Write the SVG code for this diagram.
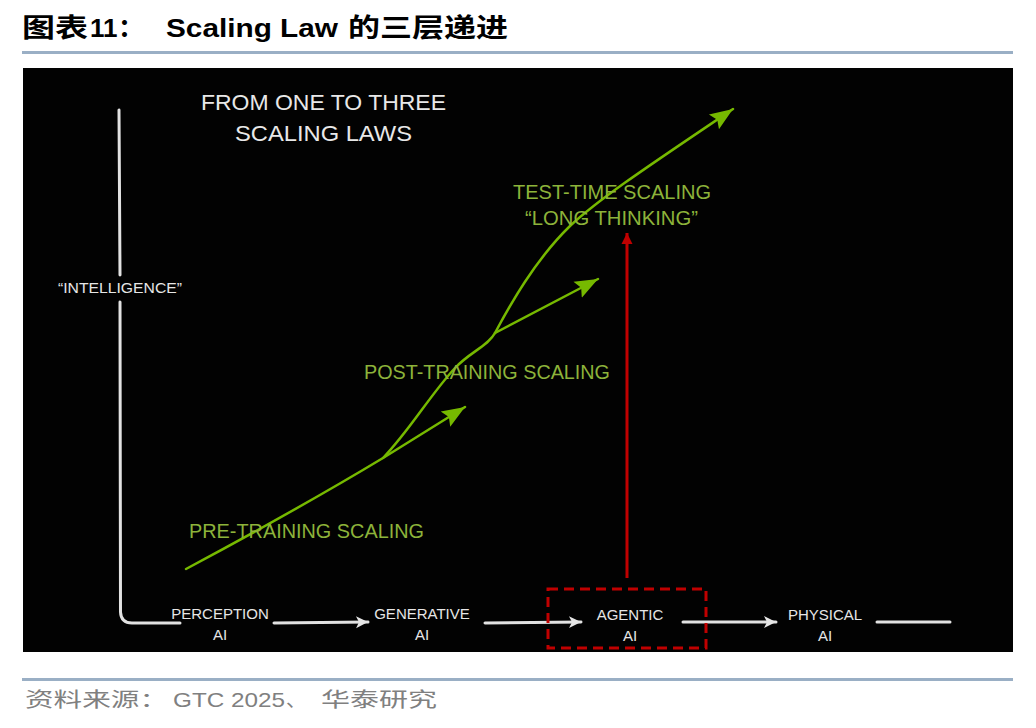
<svg xmlns="http://www.w3.org/2000/svg" width="1036" height="728" viewBox="0 0 1036 728">
<style>
.title-cn{font-family:"Noto Sans CJK SC","Noto Sans",sans-serif;font-weight:bold;font-size:26px;fill:#000}
.title-en{font-family:"Liberation Sans",Arial,sans-serif;font-weight:bold;font-size:26px;fill:#000}
.foot-cn{font-family:"Noto Sans CJK SC",sans-serif;font-size:20px;fill:#808080}
.foot-en{font-family:"Liberation Sans",Arial,sans-serif;font-size:21px;fill:#808080}
.wtxt{font-family:"Liberation Sans",Arial,sans-serif;font-size:15px;fill:#e6e6e6;text-anchor:middle}
.head{font-family:"Liberation Sans",Arial,sans-serif;font-size:22px;fill:#e8e8e8}
.gtxt{font-family:"Liberation Sans",Arial,sans-serif;font-size:21px;fill:#8db33a}
.wline{fill:none;stroke:#e2e2e2;stroke-width:3;stroke-linecap:round}
.gline{fill:none;stroke:#76b900;stroke-width:2.5;stroke-linecap:round}
.rule{stroke:#9aafc5;stroke-width:3}
</style>
<defs>
<marker id="wArrow" markerUnits="userSpaceOnUse" markerWidth="14" markerHeight="14" viewBox="0 0 14 14" refX="13" refY="7" orient="auto">
<path d="M1,1 L13,7 L1,13 L4,7 Z" fill="#e6e6e6"/>
</marker>
<marker id="gArrow" markerUnits="userSpaceOnUse" markerWidth="24" markerHeight="20" viewBox="0 0 24 20" refX="23" refY="10" orient="auto">
<path d="M0,1 L23,10 L0,19 L4,10 Z" fill="#76b900"/>
</marker>
<marker id="rArrow" markerUnits="userSpaceOnUse" markerWidth="12" markerHeight="12" viewBox="0 0 12 12" refX="11" refY="6" orient="auto">
<path d="M0,0.5 L11,6 L0,11.5 Z" fill="#c00000"/>
</marker>
</defs>
<rect width="1036" height="728" fill="#fff"/>
<g id="title">
<text class="title-cn" x="22" y="37" textLength="66" lengthAdjust="spacingAndGlyphs">图表</text>
<text class="title-en" x="90" y="37">11</text>
<text class="title-cn" x="118" y="37">：</text>
<text class="title-en" x="166" y="37" textLength="172" lengthAdjust="spacingAndGlyphs">Scaling Law</text>
<text class="title-cn" x="348" y="37" textLength="160" lengthAdjust="spacingAndGlyphs">的三层递进</text>
</g>
<line class="rule" x1="22" y1="52.5" x2="1013" y2="52.5"/>
<rect x="23" y="68" width="990" height="584" fill="#020202"/>
<g id="connectors">
<path class="wline" d="M119,110 L120,275"/>
<path class="wline" d="M120,302 L120.5,612 Q121,623 132,623 L180,623"/>
<path class="wline" d="M274,623 L368,622" marker-end="url(#wArrow)"/>
<path class="wline" d="M485,623 L581,622" marker-end="url(#wArrow)"/>
<path class="wline" d="M683,622 L776,622" marker-end="url(#wArrow)"/>
<path class="wline" d="M877,622 L950,622"/>
<path class="gline" d="M186,569 Q300,508 383,458 L465,407" marker-end="url(#gArrow)"/>
<path class="gline" d="M383,458 C410,430 430,395 455,368 C470,352 488,346 495,333"/>
<path class="gline" d="M495,333 L598,279" marker-end="url(#gArrow)"/>
<path class="gline" d="M495,333 C510,305 535,260 570,226 C600,198 650,165 733,109" marker-end="url(#gArrow)"/>
<path d="M627,578 L627,233" stroke="#c00000" stroke-width="3" fill="none" marker-end="url(#rArrow)"/>
</g>
<g id="heading">
<text class="head" x="201" y="110" textLength="245" lengthAdjust="spacingAndGlyphs">FROM ONE TO THREE</text>
<text class="head" x="235" y="141" textLength="177" lengthAdjust="spacingAndGlyphs">SCALING LAWS</text>
</g>
<g id="intelligence">
<text class="wtxt" x="120" y="293" textLength="124" lengthAdjust="spacingAndGlyphs">“INTELLIGENCE”</text>
</g>
<g id="pre-training">
<text class="gtxt" x="189" y="538" textLength="235" lengthAdjust="spacingAndGlyphs">PRE-TRAINING SCALING</text>
</g>
<g id="post-training">
<text class="gtxt" x="364" y="379" textLength="246" lengthAdjust="spacingAndGlyphs">POST-TRAINING SCALING</text>
</g>
<g id="test-time">
<text class="gtxt" x="513" y="199" textLength="198" lengthAdjust="spacingAndGlyphs">TEST-TIME SCALING</text>
<text class="gtxt" x="525" y="225" textLength="173" lengthAdjust="spacingAndGlyphs">“LONG THINKING”</text>
</g>
<g id="perception-ai">
<text class="wtxt" x="220" y="619">PERCEPTION</text>
<text class="wtxt" x="220" y="640">AI</text>
</g>
<g id="generative-ai">
<text class="wtxt" x="422" y="619">GENERATIVE</text>
<text class="wtxt" x="422" y="640">AI</text>
</g>
<g id="agentic-ai">
<rect x="548" y="589" width="158" height="59" fill="none" stroke="#c00000" stroke-width="3" stroke-dasharray="10 6"/>
<text class="wtxt" x="630" y="620">AGENTIC</text>
<text class="wtxt" x="630" y="641">AI</text>
</g>
<g id="physical-ai">
<text class="wtxt" x="825" y="620">PHYSICAL</text>
<text class="wtxt" x="825" y="641">AI</text>
</g>
<line class="rule" x1="22" y1="679.5" x2="1013" y2="679.5"/>
<g id="source">
<text class="foot-cn" x="25" y="707" textLength="143" lengthAdjust="spacingAndGlyphs">资料来源：</text>
<text class="foot-en" x="173" y="707" textLength="112" lengthAdjust="spacingAndGlyphs">GTC 2025</text>
<text class="foot-cn" x="286" y="707">、</text>
<text class="foot-cn" x="321" y="707" textLength="116" lengthAdjust="spacingAndGlyphs">华泰研究</text>
</g>
</svg>
